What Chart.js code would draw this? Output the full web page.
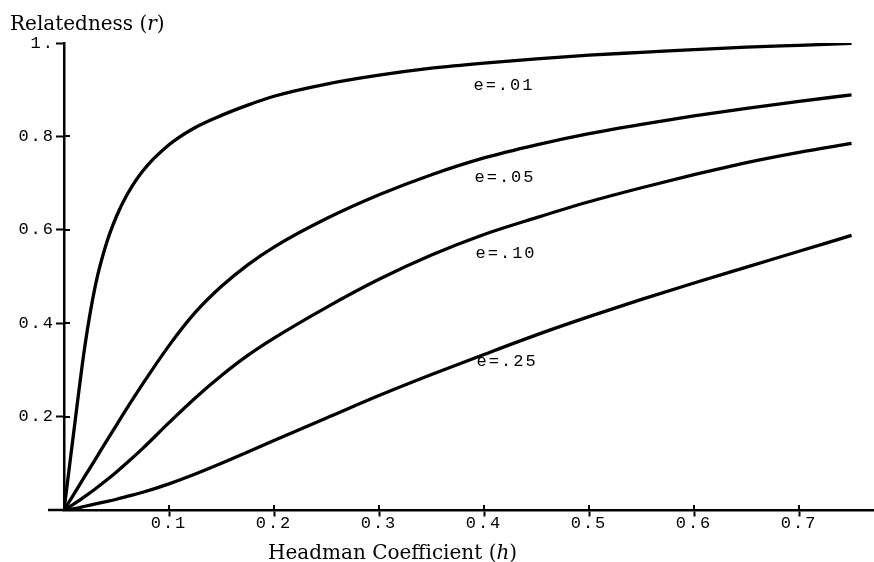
<!DOCTYPE html>
<html>
<head>
<meta charset="utf-8">
<script src="https://cdn.jsdelivr.net/npm/chart.js@4.4.1/dist/chart.umd.min.js"></script>
<style>
  html, body { margin: 0; padding: 0; background: #ffffff; }
  canvas { display: block; }
</style>
</head>
<body>
<canvas id="c" width="874" height="562"></canvas>
<script>
// ---- data ----
const hValues = [0, 0.005, 0.01, 0.02, 0.03, 0.04, 0.05, 0.06, 0.075, 0.1, 0.125, 0.15, 0.175, 0.2, 0.25, 0.3, 0.35, 0.4, 0.45, 0.5, 0.55, 0.6, 0.65, 0.7, 0.75];
const rE01 = [0, 0.09, 0.18, 0.353, 0.482, 0.568, 0.629, 0.675, 0.726, 0.782, 0.819, 0.845, 0.867, 0.886, 0.912, 0.931, 0.946, 0.957, 0.966, 0.974, 0.98, 0.986, 0.991, 0.995, 0.999];
const rE05 = [0, 0.018, 0.036, 0.073, 0.109, 0.146, 0.182, 0.218, 0.27, 0.352, 0.423, 0.479, 0.525, 0.563, 0.624, 0.675, 0.718, 0.754, 0.782, 0.806, 0.826, 0.844, 0.86, 0.875, 0.889];
const rE10 = [0, 0.0066, 0.0135, 0.029, 0.0455, 0.063, 0.0815, 0.101, 0.132, 0.187, 0.24, 0.288, 0.331, 0.368, 0.434, 0.494, 0.546, 0.59, 0.626, 0.66, 0.69, 0.718, 0.744, 0.766, 0.785];
const rE25 = [0, 0.001, 0.003, 0.008, 0.013, 0.018, 0.023, 0.029, 0.038, 0.056, 0.077, 0.1, 0.124, 0.149, 0.197, 0.245, 0.29, 0.333, 0.375, 0.414, 0.451, 0.486, 0.52, 0.554, 0.588];
const seriesNames = ['e=.01', 'e=.05', 'e=.10', 'e=.25'];
const labelH = [0.419, 0.420, 0.421, 0.422];
const labelR = [0.910, 0.711, 0.550, 0.317];
const xTickValues = [0.1, 0.2, 0.3, 0.4, 0.5, 0.6, 0.7];
const xTickLabels = ['0.1', '0.2', '0.3', '0.4', '0.5', '0.6', '0.7'];
const yTickValues = [0.2, 0.4, 0.6, 0.8, 1.0];
const yTickLabels = ['0.2', '0.4', '0.6', '0.8', '1.'];
const xTitleParts = [['Headman Coefficient (', false], ['h', true], [')', false]];
const yTitleParts = [['Relatedness (', false], ['r', true], [')', false]];

const seriesValues = [rE01, rE05, rE10, rE25];
const monoFont = 'Liberation Mono';
const serifFont = 'DejaVu Serif';

const datasets = seriesValues.map((vals, k) => ({
  label: seriesNames[k],
  data: hValues.map((h, i) => ({ x: h, y: vals[i] })),
  borderColor: '#000000',
  borderWidth: 3.3,
  pointRadius: 0,
  fill: false,
  cubicInterpolationMode: 'monotone'
}));

function drawParts(ctx, parts, x, y, size) {
  let cx = x;
  parts.forEach(([txt, ital]) => {
    ctx.font = (ital ? 'italic ' : '') + size + 'px "' + serifFont + '"';
    ctx.fillText(txt, cx, y);
    cx += ctx.measureText(txt).width;
  });
}

const axisPlugin = {
  id: 'axisExtras',
  beforeDraw(chart) { chart.ctx.letterSpacing = '2px'; },
  beforeDatasetsDraw(chart) {
    const ctx = chart.ctx;
    const a = chart.chartArea;
    const xs = chart.scales.x, ys = chart.scales.y;
    const y0 = ys.getPixelForValue(0);
    ctx.save();
    ctx.strokeStyle = '#000000';
    // short stub of the h axis reaching left of the r axis
    ctx.lineWidth = 2.5;
    ctx.beginPath();
    ctx.moveTo(a.left - 16, y0);
    ctx.lineTo(a.left, y0);
    ctx.stroke();
    // inner halves of the tick marks (ticks cross the axes)
    ctx.lineWidth = 2;
    ctx.beginPath();
    xTickValues.forEach(v => {
      const px = Math.round(xs.getPixelForValue(v));
      ctx.moveTo(px, y0);
      ctx.lineTo(px, y0 - 5);
    });
    yTickValues.slice(0, -1).forEach(v => {
      const py = Math.round(ys.getPixelForValue(v));
      ctx.moveTo(a.left, py);
      ctx.lineTo(a.left + 6, py);
    });
    ctx.stroke();
    ctx.restore();
  }
};

const textPlugin = {
  id: 'texts',
  afterDraw(chart) {
    const ctx = chart.ctx;
    const xs = chart.scales.x, ys = chart.scales.y;
    ctx.save();
    ctx.fillStyle = '#000000';
    ctx.letterSpacing = '2px';
    ctx.font = '17px "' + monoFont + '"';
    ctx.textAlign = 'center';
    ctx.textBaseline = 'middle';
    seriesNames.forEach((name, k) => {
      ctx.fillText(name, xs.getPixelForValue(labelH[k]), ys.getPixelForValue(labelR[k]));
    });
    ctx.letterSpacing = '0px';
    ctx.textAlign = 'left';
    ctx.textBaseline = 'alphabetic';
    drawParts(ctx, yTitleParts, 10, 30, 20);
    drawParts(ctx, xTitleParts, 268, 559, 20);
    ctx.restore();
  }
};

new Chart(document.getElementById('c'), {
  type: 'line',
  data: { datasets },
  plugins: [axisPlugin, textPlugin],
  options: {
    responsive: false,
    devicePixelRatio: 1,
    animation: false,
    layout: { padding: { left: 0, right: 0, top: 43, bottom: 52 } },
    plugins: { legend: { display: false }, tooltip: { enabled: false }, title: { display: false } },
    scales: {
      x: {
        type: 'linear',
        position: { y: 0 },
        min: 0,
        max: 0.7714,
        afterBuildTicks: (scale) => { scale.ticks = xTickValues.map(v => ({ value: v })); },
        grid: { drawOnChartArea: false, drawTicks: true, tickLength: 5, tickWidth: 2, tickColor: '#000000' },
        border: { display: true, color: '#000000', width: 2.5 },
        ticks: {
          autoSkip: false,
          maxRotation: 0,
          padding: 0,
          color: '#000000',
          font: { family: monoFont, size: 17, lineHeight: 1 },
          callback: (v, i) => xTickLabels[i]
        }
      },
      y: {
        type: 'linear',
        position: 'left',
        min: 0,
        max: 1,
        afterFit: (scale) => { scale.width = 64; },
        afterBuildTicks: (scale) => { scale.ticks = yTickValues.map(v => ({ value: v })); },
        grid: { drawOnChartArea: false, drawTicks: true, tickLength: 8, tickWidth: 2, tickColor: '#000000' },
        border: { display: true, color: '#000000', width: 2.5 },
        ticks: {
          autoSkip: false,
          padding: 1,
          color: '#000000',
          font: { family: monoFont, size: 17 },
          callback: (v, i) => yTickLabels[i]
        }
      }
    }
  }
});
</script>
</body>
</html>
